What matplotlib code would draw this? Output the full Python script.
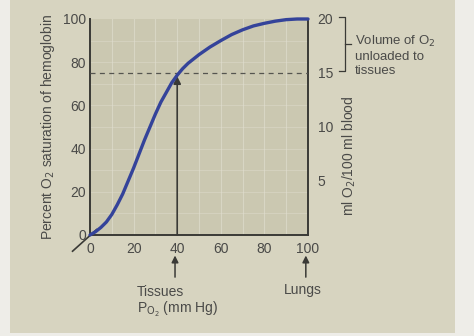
import numpy as np
import matplotlib
matplotlib.use('Agg')
import matplotlib.pyplot as plt
from matplotlib.patches import Rectangle

plt.rcParams['font.family'] = ['Liberation Sans', 'DejaVu Sans']

# oxygen dissociation curve
po2 = [0, 2.5, 5, 7.5, 10, 12.5, 15, 17.5, 20, 22.5, 25, 27.5, 30, 32.5, 35, 37.5, 40,
       42.5, 45, 47.5, 50, 55, 60, 65, 70, 75, 80, 85, 90, 95, 100]
sat = [0, 1.5, 3.5, 6, 9.5, 14, 19, 25, 31, 37.5, 44, 50, 56, 61.5, 66, 70.5, 74,
       77, 79.5, 81.5, 83.5, 87, 90, 92.8, 95, 96.8, 98, 99, 99.7, 100, 100]

x_ticks = [0, 20, 40, 60, 80, 100]
y_ticks = [0, 20, 40, 60, 80, 100]
right_ticks = [5, 10, 15, 20]
tissue_po2 = 40
tissue_sat = 75
lung_po2 = 100

txt = '#4a4a48'
line_c = '#3a3a36'

fig = plt.figure(figsize=(4.74, 3.36), dpi=100)
fig.patch.set_facecolor('#eeede8')
fig.patches.append(Rectangle((10/474, 3/336), 445/474, 333/336, transform=fig.transFigure,
                             facecolor='#d7d4c0', edgecolor='none', zorder=-5))

ax = fig.add_axes([90/474, 1 - 235/336, 218/474, 216/336])
ax.set_facecolor('#cbc8b1')
ax.set_xlim(0, 100)
ax.set_ylim(0, 100)

# faint grid of the printed page
for g in range(10, 100, 10):
    ax.axvline(g, color='#e2e0d2', lw=0.8, alpha=0.6, zorder=1)
    ax.axhline(g, color='#e2e0d2', lw=0.8, alpha=0.4, zorder=1)

ax.plot(po2, sat, color='#34439a', lw=2.4, zorder=4, clip_on=False,
        solid_capstyle='round', solid_joinstyle='round')
ax.plot([0, 100], [tissue_sat, tissue_sat], ls=(0, (4, 3.5)), color='#555550', lw=0.9, zorder=3)
ax.annotate('', xy=(tissue_po2, tissue_sat - 1.5), xytext=(tissue_po2, 0),
            arrowprops=dict(arrowstyle='-|>', color=line_c, lw=1.2, mutation_scale=11,
                            shrinkA=0, shrinkB=0), zorder=3)

ax.spines['top'].set_visible(False)
for s in ['left', 'bottom', 'right']:
    ax.spines[s].set_color(line_c)
    ax.spines[s].set_linewidth(1.4)

ax.set_xticks(x_ticks)
ax.set_yticks(y_ticks)
ax.tick_params(length=0, labelsize=10, labelcolor=txt)
ax.tick_params(axis='x', pad=5)
ax.tick_params(axis='y', pad=3)
ax.set_ylabel('Percent O$_2$ saturation of hemoglobin', fontsize=10, color=txt, labelpad=4)

# diagonal mark at the origin
ax.plot([-8, 3], [-7.5, 2.5], color=line_c, lw=1.2, clip_on=False)

ax2 = ax.twinx()
ax2.set_ylim(0, 20)
ax2.set_yticks(right_ticks)
ax2.tick_params(length=0, labelsize=10, labelcolor=txt, pad=7)
for s in ax2.spines.values():
    s.set_visible(False)
ax2.set_ylabel('ml O$_2$/100 ml blood', fontsize=10, color=txt, rotation=90)
ax2.yaxis.set_label_coords(1.15, 0.365)

# bracket for volume unloaded
bx = 1.17
ax2.plot([bx - 0.03, bx, bx, bx - 0.03], [20.2, 20.2, 15.2, 15.2], color=line_c, lw=0.9,
         transform=ax2.get_yaxis_transform(), clip_on=False)
ax2.plot([bx, bx + 0.025], [17.7, 17.7], color=line_c, lw=0.9,
         transform=ax2.get_yaxis_transform(), clip_on=False)
ax2.text(bx + 0.045, 18.6, 'Volume of O$_2$\nunloaded to\ntissues', transform=ax2.get_yaxis_transform(),
         fontsize=9.5, color=txt, va='top', ha='left', linespacing=1.2)

# arrows and labels below the axis
for xv in [tissue_po2, lung_po2]:
    ax.annotate('', xy=(xv - 1, -9.5), xytext=(xv - 1, -19.5), annotation_clip=False,
                arrowprops=dict(arrowstyle='-|>', color=line_c, lw=1.1, mutation_scale=10,
                                shrinkA=0, shrinkB=0))
ax.text(21.5, -26.5, 'Tissues', fontsize=10, color=txt, ha='left', va='center', clip_on=False)
ax.text(21.5, -34.5, 'P$_{\\mathrm{O_2}}$ (mm Hg)', fontsize=10, color=txt, ha='left', va='center', clip_on=False)
ax.text(97.5, -25.5, 'Lungs', fontsize=10, color=txt, ha='center', va='center', clip_on=False)

fig.savefig('out.png', dpi=100, facecolor=fig.get_facecolor())
